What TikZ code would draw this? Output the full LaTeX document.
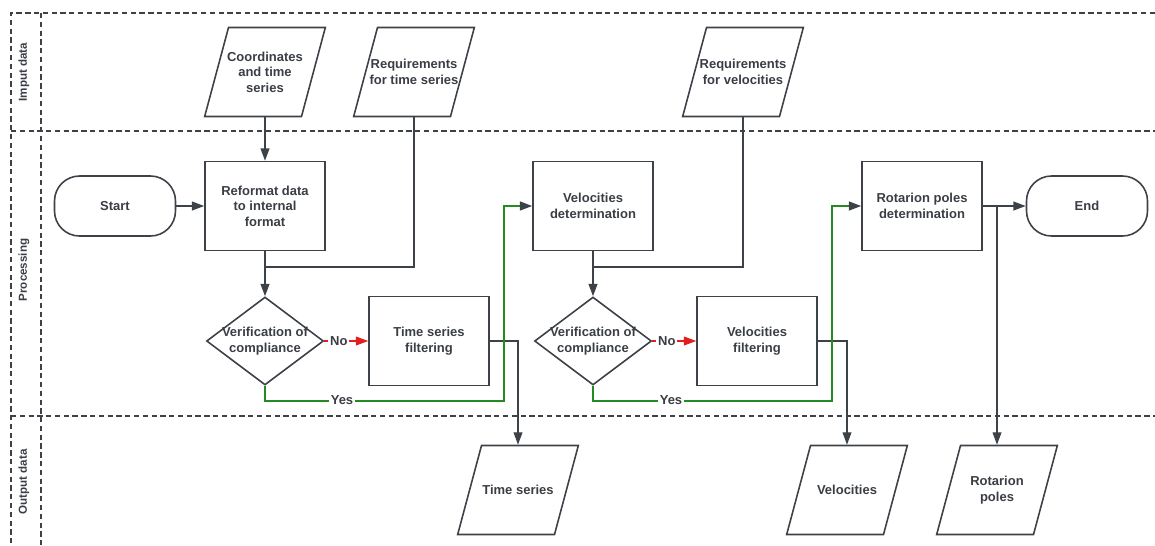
\documentclass[tikz,border=0pt]{standalone}
\usepackage{fontspec}
\setmainfont{Liberation Sans}
\usetikzlibrary{shapes.geometric,arrows.meta}
\definecolor{linegray}{RGB}{61,65,72}
\definecolor{textgray}{RGB}{58,62,68}
\definecolor{yesgreen}{RGB}{34,140,34}
\definecolor{nored}{RGB}{226,30,30}
\tikzset{process/.style={draw=linegray, line width=0.9pt, minimum width=2.4cm, minimum height=1.78cm, align=center},
	iodata/.style={trapezium, trapezium left angle=75, trapezium right angle=105,
		draw=linegray, line width=0.9pt, inner xsep=0.73cm, inner ysep=0.89cm, label={[align=center]center:#1}},
	terminal/.style={draw=linegray, line width=0.9pt, rounded corners=0.5cm, minimum width=2.42cm, minimum height=1.2cm},
	decision/.style={diamond, draw=linegray, line width=0.9pt, minimum width=2.34cm, minimum height=1.76cm, inner sep=0pt,
		label={[align=center]center:#1}},
	lane/.style={draw=linegray, line width=0.6pt, dash pattern=on 3pt off 2pt},
	lanetitle/.style={rotate=90, font=\fontsize{6.6}{8}\selectfont\bfseries},
	flow/.style={draw=linegray, line width=0.9pt, -{Triangle[length=7pt,width=5pt]}},
	link/.style={draw=linegray, line width=0.9pt},
	thinflow/.style={draw=linegray, line width=0.6pt, -{Triangle[length=7pt,width=5pt]}},
	yesflow/.style={draw=yesgreen, line width=1pt, -{Triangle[length=7pt,width=5pt,color=linegray]}},
	noflow/.style={draw=nored, line width=0.6pt, -{Triangle[length=7pt,width=5pt]}},
	edgelabel/.style={fill=white, inner sep=1pt}}
\begin{document}
\begin{tikzpicture}
  [x=0.02cm,y=-0.02cm,every node/.style={font=\fontsize{7.4}{8.8}\selectfont\bfseries, text=textgray}]
  \useasboundingbox (0,0) rectangle (1155,545);
  % swimlanes
  \draw[lane] (1155,13) -- (11,13) -- (11,545);
  \draw[lane] (41,13) -- (41,545);
  \draw[lane] (11,131) -- (1155,131);
  \draw[lane] (11,416) -- (1155,416);
  \node[lanetitle] (inlane) at (24,72) {Imput data};
  \node[lanetitle] (proclane) at (24,270) {Processing};
  \node[lanetitle] (outlane) at (24,482) {Output data};
  % input data
  \node[iodata={Coordinates\\and time\\series}] (coords) at (265,72) {};
  \node[iodata={Requirements\\for time series}] (reqts) at (414,72) {};
  \node[iodata={Requirements\\for velocities}] (reqvel) at (743,72) {};
  % processing
  \node[terminal] (start) at (115,206) {Start};
  \node[process] (reformat) at (265,206) {Reformat data\\to internal\\format};
  \node[process] (veldet) at (593,206) {Velocities\\determination};
  \node[process] (rotdet) at (922,206) {Rotarion poles\\determination};
  \node[terminal] (end) at (1087,206) {End};
  \node[decision={Verification of\\compliance}] (check1) at (265,341) {};
  \node[decision={Verification of\\compliance}] (check2) at (593,341) {};
  \node[process] (tsfilt) at (429,341) {Time series\\filtering};
  \node[process] (velfilt) at (757,341) {Velocities\\filtering};
  % output data
  \node[iodata={Time series}] (tsout) at (518,490) {};
  \node[iodata={Velocities}] (velout) at (847,490) {};
  \node[iodata={Rotarion\\poles}] (rotout) at (997,490) {};

  \foreach \from/\to in {coords/reformat,start/reformat,reformat/check1,veldet/check2,rotdet/end}
    \draw[flow] (\from) -- (\to);
  \path (reformat.south) ++(0,16) coordinate (join1);
  \path (veldet.south) ++(0,16) coordinate (join2);
  \draw[link] (reqts.south) |- (join1);
  \draw[link] (reqvel.south) |- (join2);

  \draw[noflow] (check1.east) -- node[edgelabel, pos=0.33] (no1) {No} (tsfilt.west);
  \draw[noflow] (check2.east) -- node[edgelabel, pos=0.33] (no2) {No} (velfilt.west);

  \draw[thinflow] (tsfilt.east) -| (tsout.north);
  \draw[thinflow] (velfilt.east) -| (velout.north);
  \coordinate (rotsplit) at (rotdet.east -| rotout.north);
  \draw[thinflow] (rotsplit) -- (rotout.north);

  \coordinate (bend1) at (504,401);
  \coordinate (bend2) at (832,401);
  \draw[yesflow] (check1.south) |- (bend1) |- (veldet.west);
  \draw[yesflow] (check2.south) |- (bend2) |- (rotdet.west);
  \node[edgelabel] (yes1) at (342,400) {Yes};
  \node[edgelabel] (yes2) at (671,400) {Yes};
\end{tikzpicture}
\end{document}
